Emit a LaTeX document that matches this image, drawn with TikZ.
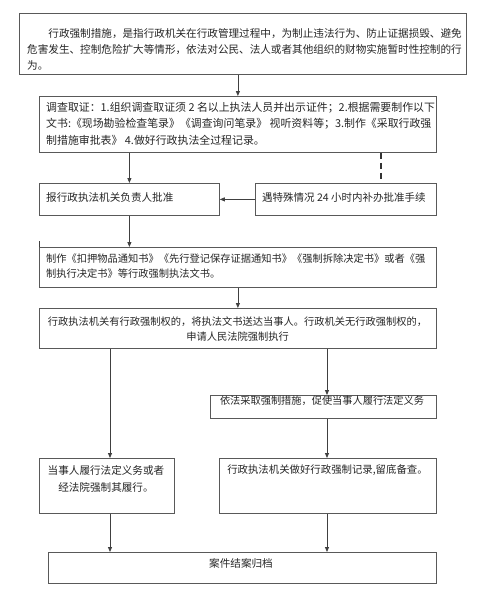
\documentclass[tikz,border=0pt]{standalone}
\usepackage{fontspec}
\newfontfamily\cjk{Noto Sans CJK SC}
\usetikzlibrary{arrows.meta,calc}
\newcommand{\fs}[2]{\cjk\fontsize{#1}{#2}\selectfont}
\begin{document}
\begin{tikzpicture}[x=1pt,y=-1pt,
  box/.style={draw=black!65, line width=0.8pt, inner sep=0pt, anchor=north west},
  txt/.style={inner sep=0pt, font=\fs{10.6}{16}, align=left, text=black!85},
  arr/.style={draw=black!75, line width=0.8pt, -{Triangle[length=5pt,width=4pt]}},
  dsh/.style={draw=black!80, line width=1.2pt, dash pattern=on 6pt off 4pt}]
\fill[white] (0,0) rectangle (480,600);
\useasboundingbox (0,0) rectangle (480,600);
% boxes
\node[box, minimum width=447pt, minimum height=61pt] (b1) at (19,13) {};
\node[box, minimum width=397pt, minimum height=56pt] (b2) at (39,96) {};
\node[box, minimum width=180pt, minimum height=32pt] (b3l) at (39,183) {};
\node[box, minimum width=181pt, minimum height=32pt] (b3r) at (255,183) {};
\node[box, minimum width=397pt, minimum height=40pt] (b4) at (39,247) {};
\node[box, minimum width=397pt, minimum height=40pt] (b5) at (39,308) {};
\node[box, minimum width=226pt, minimum height=23pt] (b6) at (210,395) {};
\node[box, minimum width=135pt, minimum height=55pt] (b8) at (39,458) {};
\node[box, minimum width=217pt, minimum height=55pt] (b7) at (219,458) {};
\node[box, minimum width=388pt, minimum height=31pt] (b9) at (48,552) {};
% texts
\node[txt, anchor=north west] (t1) at (27,28) {\hspace*{2em}行政强制措施，是指行政机关在行政管理过程中，为制止违法行为、防止证据损毁、避免\\危害发生、控制危险扩大等情形，依法对公民、法人或者其他组织的财物实施暂时性控制的行\\为。};
\node[txt, anchor=north west, font=\fs{10.9}{16.5}] (t2) at (46,102) {调查取证：1.组织调查取证须 2 名以上执法人员并出示证件；2.根据需要制作以下\\文书:《现场勘验检查笔录》《调查询问笔录》 视听资料等；3.制作《采取行政强\\制措施审批表》 4.做好行政执法全过程记录。};
\node[txt, anchor=north west] (t3l) at (46,192) {报行政执法机关负责人批准};
\node[txt, anchor=north west, font=\fs{10.5}{16}] (t3r) at (262,192) {遇特殊情况 24 小时内补办批准手续};
\node[txt, anchor=north west, font=\fs{10.25}{14.5}] (t4) at (46,254) {制作《扣押物品通知书》《先行登记保存证据通知书》《强制拆除决定书》或者《强\\制执行决定书》等行政强制执法文书。};
\node[txt, anchor=north, align=center, font=\fs{10.25}{15}] (t5) at (237.5,317) {行政执法机关有行政强制权的，将执法文书送达当事人。行政机关无行政强制权的，\\申请人民法院强制执行};
\node[txt, anchor=north, font=\fs{10.2}{16}] (t6) at (322,395.5) {依法采取强制措施，促使当事人履行法定义务};
\node[txt, anchor=north, align=center, font=\fs{10.6}{17}] (t8) at (106,465) {当事人履行法定义务或者\\经法院强制其履行。};
\node[txt, anchor=north, font=\fs{10.4}{16}] (t7) at (327.5,465) {行政执法机关做好行政强制记录,留底备查。};
\node[txt, anchor=north] (t9) at (241,558) {案件结案归档};
% connector columns
\coordinate (xd) at (381,0);
\coordinate (xl) at (110,0);
\coordinate (xr) at (327,0);
% connectors
\draw[arr] (b1.south -| b2.north) -- (b2.north);
\draw[arr] (b2.south -| b3l.north) -- (b3l.north);
\draw[dsh] (b2.south -| xd) -- ($(b3r.north -| xd)+(0,-2)$);
\draw[arr] (b3r.west) -- (b3l.east);
\draw[arr] (b3l.south) -- (b3l.south |- b4.north);
\draw[draw=black!75, line width=0.8pt] (b4.north west) -- ++(0,-6);
\draw[arr] (b4.south) -- (b4.south |- b5.north);
\draw[arr] (b5.south -| xl) -- (b8.north -| xl);
\draw[arr] (b5.south -| xr) -- (b6.north -| xr);
\draw[arr] (b6.south -| xr) -- (b7.north -| xr);
\draw[arr] (b8.south -| xl) -- (b9.north -| xl);
\draw[arr] (b7.south -| xr) -- (b9.north -| xr);
\end{tikzpicture}
\end{document}
